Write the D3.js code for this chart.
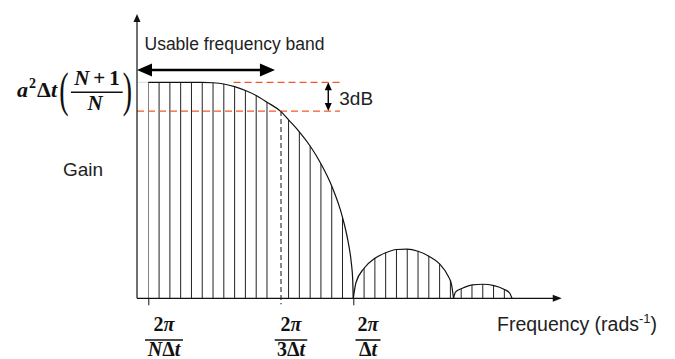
<!DOCTYPE html>
<html lang="en">
<head>
<meta charset="utf-8">
<title>Gain vs frequency</title>
<script src="https://d3js.org/d3.v7.min.js"></script>
<style>
	body { margin: 0; background: #fff; }
	svg { display: block; }
	.sans { font-family: "Liberation Sans", Arial, sans-serif; font-size: 17.5px; fill: #222; }
	.math { font-family: "Liberation Serif", "DejaVu Serif", serif; font-weight: bold; fill: #111; }
	.paren { font-family: "Liberation Serif", "DejaVu Serif", serif; font-weight: normal; fill: #111; }
</style>
</head>
<body>
<svg id="chart" width="675" height="359"></svg>
<script>
	// frequency in hatch steps (0 = 2π/NΔt, 19 = 2π/Δt), gain relative to the flat top
	var mainLobeF = [0, 5, 6, 7, 8, 9, 10, 11, 12.3, 13, 14, 15, 16, 17, 18, 18.5, 18.8, 18.95, 19];
	var mainLobeG = [1, 1, 0.998, 0.992, 0.980, 0.962, 0.939, 0.908, 0.864, 0.826, 0.771, 0.705, 0.623, 0.520, 0.375, 0.267, 0.171, 0.082, 0];
	var sideLobe1F = [19.0, 19.25, 20, 21, 22, 23, 24, 25, 26, 27, 27.8, 28.1, 28.29];
	var sideLobe1G = [0, 0.073, 0.139, 0.185, 0.211, 0.226, 0.228, 0.218, 0.195, 0.159, 0.102, 0.065, 0];
	var sideLobe2F = [28.29, 28.47, 29.05, 30.03, 30.99, 32.04, 33.00, 33.48, 33.71];
	var sideLobe2G = [0, 0.029, 0.045, 0.062, 0.065, 0.059, 0.041, 0.025, 0];

	// marked frequencies and their labels
	var tickF = [0, 12.3, 19];
	var tickNumer = ["2π", "2π", "2π"];
	var tickDenom = ["NΔt", "3Δt", "Δt"];
	var halfPowerF = 12.3;
	var halfPowerG = 0.867;
	var bandF = [-1.047, 11.74];   // usable frequency band arrow
	var bandG = 1.057;
	var dbLineF = [7.9, 17.77];     // extent of the red dashed lines
	var dbArrowF = 16.68;
	var axisF = [-1.047, 38.32];
	var axisG = [0, 1.316];

	var svg = d3.select("#chart");

	var x = d3.scaleLinear().domain([0, 19]).range([148.3, 353.3]);
	var y = d3.scaleLinear().domain([0, 1]).range([298.3, 82.3]);

	function zipLobe(f, g) {
		return f.map(function(v, i) { return { f: v, g: g[i] }; });
	}
	var lobes = [zipLobe(mainLobeF, mainLobeG), zipLobe(sideLobe1F, sideLobe1G), zipLobe(sideLobe2F, sideLobe2G)];

	var area = d3.area()
		.x(function(d) { return x(d.f); })
		.y0(y(0))
		.y1(function(d) { return y(d.g); })
		.curve(d3.curveMonotoneX);
	var line = d3.line()
		.x(function(d) { return x(d.f); })
		.y(function(d) { return y(d.g); })
		.curve(d3.curveMonotoneX);

	// clip for the vertical hatching
	svg.append("defs").append("clipPath")
		.attr("id", "lobeClip")
		.selectAll("path")
		.data(lobes)
		.enter().append("path")
		.attr("d", area);

	// faint guide at the top level
	svg.append("line")
		.attr("x1", x(axisF[0])).attr("x2", x(0))
		.attr("y1", y(1)).attr("y2", y(1))
		.attr("stroke", "#ddd").attr("stroke-width", 1);

	var hatchF = d3.range(0, 34).filter(function(k) { return k !== 12; });
	svg.append("g")
		.attr("clip-path", "url(#lobeClip)")
		.selectAll("line")
		.data(hatchF)
		.enter().append("line")
		.attr("x1", function(d) { return x(d); })
		.attr("x2", function(d) { return x(d); })
		.attr("y1", y(0))
		.attr("y2", y(1.1))
		.attr("stroke", "#222")
		.attr("stroke-width", 1);

	svg.append("g")
		.selectAll("path")
		.data(lobes)
		.enter().append("path")
		.attr("d", line)
		.attr("fill", "none")
		.attr("stroke", "#111")
		.attr("stroke-width", 1.2);

	// -3dB lines
	svg.append("line")
		.attr("x1", x(dbLineF[0])).attr("x2", x(dbLineF[1]))
		.attr("y1", y(1)).attr("y2", y(1))
		.attr("stroke", "#ef5a28").attr("stroke-width", 1.2)
		.attr("stroke-dasharray", "7,4");
	svg.append("line")
		.attr("x1", x(axisF[0])).attr("x2", x(dbLineF[1]))
		.attr("y1", y(halfPowerG)).attr("y2", y(halfPowerG))
		.attr("stroke", "#ef5a28").attr("stroke-width", 1.2)
		.attr("stroke-dasharray", "7,4");

	// dashed marker at the half power frequency
	svg.append("line")
		.attr("x1", x(halfPowerF)).attr("x2", x(halfPowerF))
		.attr("y1", y(halfPowerG)).attr("y2", y(0) + 6)
		.attr("stroke", "#111").attr("stroke-width", 1)
		.attr("stroke-dasharray", "5,3");

	// axes
	var xAxis = d3.axisBottom(x).tickValues([tickF[0], tickF[2]]).tickSize(7).tickSizeOuter(0).tickFormat("");
	var gx = svg.append("g").attr("transform", "translate(0," + y(0) + ")").call(xAxis);
	gx.select(".domain").remove();
	gx.selectAll(".tick line").attr("stroke", "#111");

	function arrowHead(tx, ty, dir, len, half) {
		var p;
		if (dir === "up") p = [[tx, ty], [tx - half, ty + len], [tx + half, ty + len]];
		else if (dir === "down") p = [[tx, ty], [tx - half, ty - len], [tx + half, ty - len]];
		else if (dir === "right") p = [[tx, ty], [tx - len, ty - half], [tx - len, ty + half]];
		else p = [[tx, ty], [tx + len, ty - half], [tx + len, ty + half]];
		return "M" + p.join("L") + "Z";
	}

	svg.append("line")
		.attr("x1", x(axisF[0])).attr("x2", x(axisF[1]) - 4)
		.attr("y1", y(0)).attr("y2", y(0))
		.attr("stroke", "#111").attr("stroke-width", 1.2);
	svg.append("path").attr("d", arrowHead(x(axisF[1]), y(0), "right", 9, 3.5)).attr("fill", "#111");
	svg.append("line")
		.attr("x1", x(axisF[0])).attr("x2", x(axisF[0]))
		.attr("y1", y(0)).attr("y2", y(axisG[1]) + 4)
		.attr("stroke", "#111").attr("stroke-width", 1.2);
	svg.append("path").attr("d", arrowHead(x(axisF[0]), y(axisG[1]), "up", 8, 3.5)).attr("fill", "#111");

	// usable band arrow
	svg.append("line")
		.attr("x1", x(bandF[0]) + 10).attr("x2", x(bandF[1]) - 10)
		.attr("y1", y(bandG)).attr("y2", y(bandG))
		.attr("stroke", "#000").attr("stroke-width", 2.6);
	svg.append("path").attr("d", arrowHead(x(bandF[0]), y(bandG), "left", 15, 6.5)).attr("fill", "#000");
	svg.append("path").attr("d", arrowHead(x(bandF[1]), y(bandG), "right", 15, 6.5)).attr("fill", "#000");

	// 3dB arrow
	svg.append("line")
		.attr("x1", x(dbArrowF)).attr("x2", x(dbArrowF))
		.attr("y1", y(1) + 4).attr("y2", y(halfPowerG) - 4)
		.attr("stroke", "#000").attr("stroke-width", 1.4);
	svg.append("path").attr("d", arrowHead(x(dbArrowF), y(1), "up", 8, 3.5)).attr("fill", "#000");
	svg.append("path").attr("d", arrowHead(x(dbArrowF), y(halfPowerG), "down", 8, 3.5)).attr("fill", "#000");

	// plain labels
	svg.append("text").attr("class", "sans").attr("x", 144.5).attr("y", 50).text("Usable frequency band");
	svg.append("text").attr("class", "sans").style("font-size", "19px")
		.attr("x", x(dbArrowF) + 11).attr("y", 104.5).text("3dB");
	svg.append("text").attr("class", "sans").style("font-size", "19px")
		.attr("x", 63).attr("y", 176).text("Gain");
	var ft = svg.append("text").attr("class", "sans").style("font-size", "19.5px").attr("x", 497).attr("y", 330.5);
	ft.append("tspan").text("Frequency (rads");
	ft.append("tspan").attr("dy", -8).style("font-size", "13px").text("-1");
	ft.append("tspan").attr("dy", 8).text(")");

	// math: symbols in italic, digits/operators/Δ upright
	function mathText(sel, str) {
		str.split("").forEach(function(c) {
			var t = sel.append("tspan").text(c);
			if (/[A-Za-zπ]/.test(c)) t.style("font-style", "italic");
		});
	}

	var yl = svg.append("text").attr("class", "math").style("font-size", "22px")
		.attr("x", 57).attr("y", 97.3).attr("text-anchor", "end");
	yl.append("tspan").style("font-style", "italic").text("a");
	yl.append("tspan").style("font-size", "14px").attr("dy", -9).attr("dx", 1).text("2");
	yl.append("tspan").attr("dy", 9).attr("dx", 1).text("Δ");
	yl.append("tspan").style("font-style", "italic").text("t");

	// tall thin brackets: a small glyph stretched vertically
	var parens = svg.append("g").attr("transform", "scale(1,1.75)");
	parens.append("text").attr("class", "paren").style("font-size", "28px")
		.attr("x", 64).attr("y", 60.6).attr("text-anchor", "middle").text("(");
	parens.append("text").attr("class", "paren").style("font-size", "28px")
		.attr("x", 127.5).attr("y", 60.6).attr("text-anchor", "middle").text(")");
	var num = svg.append("text").attr("class", "math").style("font-size", "21px")
		.attr("x", 97).attr("y", 85).attr("text-anchor", "middle");
	num.append("tspan").style("font-style", "italic").text("N");
	num.append("tspan").attr("dx", 4).text("+");
	num.append("tspan").attr("dx", 4).text("1");
	svg.append("line").attr("x1", 71).attr("x2", 122.7).attr("y1", 92.3).attr("y2", 92.3)
		.attr("stroke", "#111").attr("stroke-width", 1.6);
	svg.append("text").attr("class", "math").style("font-size", "21px").style("font-style", "italic")
		.attr("x", 95).attr("y", 109.5).attr("text-anchor", "middle").text("N");

	// frequency labels under the ticks
	var labelShift = [15.7, 10, 14.7];
	tickF.forEach(function(f, i) {
		var cx = x(f) + labelShift[i];
		var g = svg.append("g");
		var n = g.append("text").attr("class", "math").style("font-size", "20px")
			.attr("x", cx).attr("y", 331).attr("text-anchor", "middle");
		mathText(n, tickNumer[i]);
		var d = g.append("text").attr("class", "math").style("font-size", "20px")
			.attr("x", cx).attr("y", 355.5).attr("text-anchor", "middle");
		mathText(d, tickDenom[i]);
		var w = Math.max(n.node().getBBox().width, d.node().getBBox().width) + 3;
		g.append("line").attr("x1", cx - w / 2).attr("x2", cx + w / 2)
			.attr("y1", 340).attr("y2", 340)
			.attr("stroke", "#111").attr("stroke-width", 1.6);
	});
</script>
</body>
</html>
